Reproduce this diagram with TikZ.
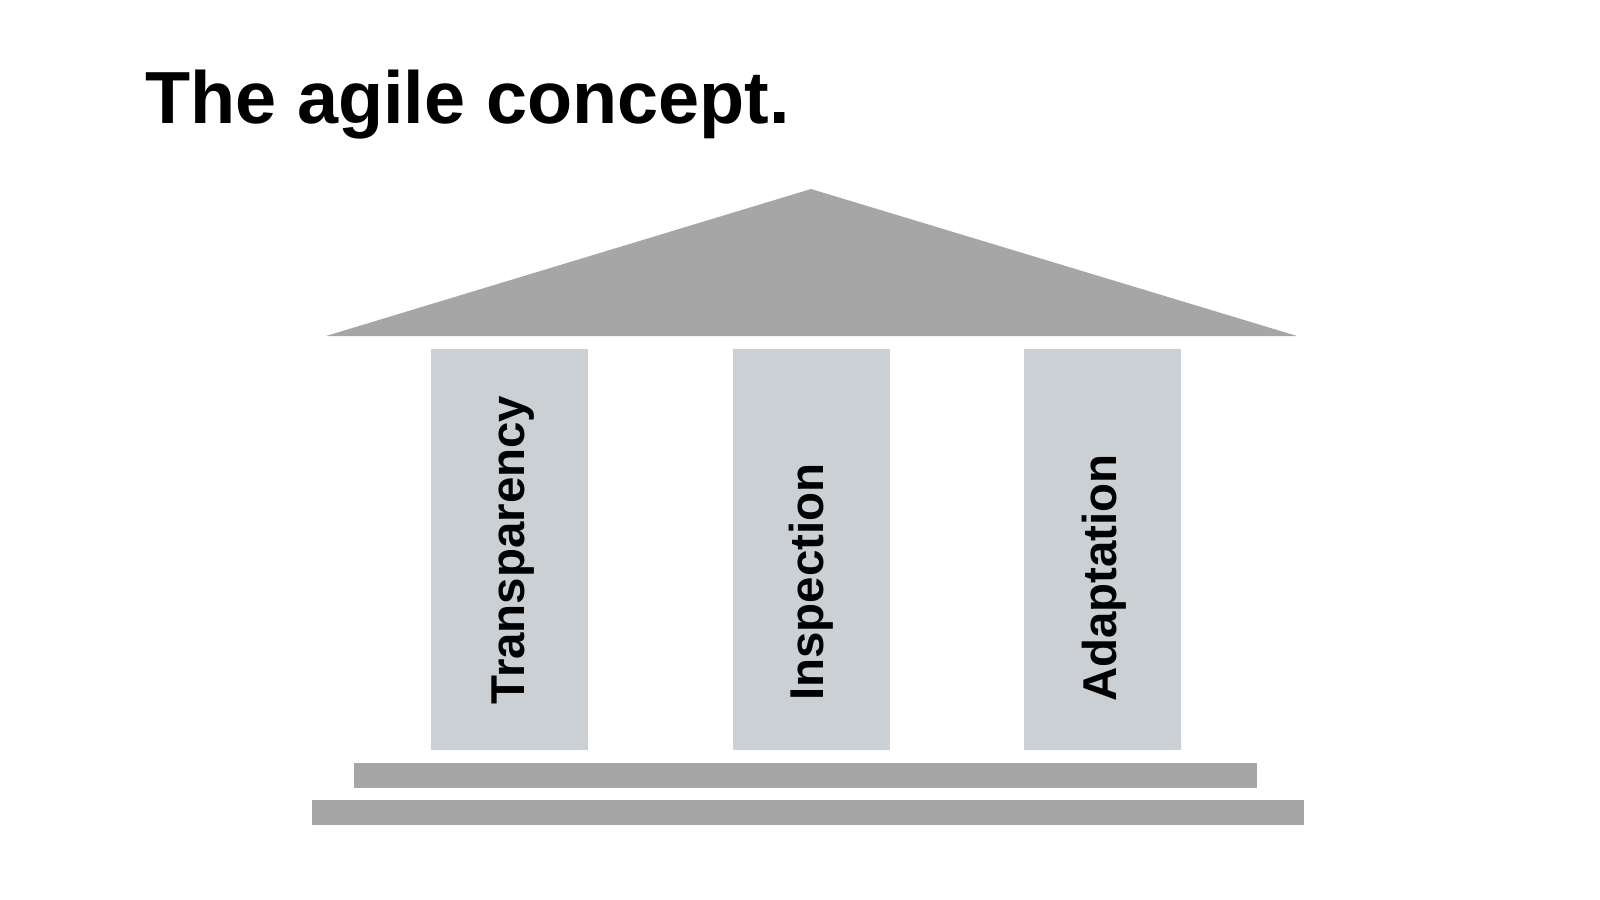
\documentclass[tikz,border=0pt]{standalone}
\usepackage{fontspec}
\setmainfont{Liberation Sans}
\begin{document}
\begin{tikzpicture}[x=0.01cm,y=-0.01cm,
  pillar/.style={fill=pillarc,draw=none},
  slab/.style={fill=roofc,draw=none},
  lbl/.style={font=\fontsize{13.5}{16}\selectfont\bfseries,rotate=90}]
\definecolor{pillarc}{HTML}{CBD0D5}
\definecolor{roofc}{HTML}{A6A6A6}
\useasboundingbox (0,0) rectangle (1600,900);
\node[anchor=west,font=\fontsize{21}{25}\selectfont\bfseries] (title) at (133,105) {The agile concept.};
\fill[slab] (326,336) -- (811,189) -- (1297,336) -- cycle;
\coordinate (apex) at (811,189);
\fill[pillar] (431,349) rectangle (588,750);
\fill[pillar] (733,349) rectangle (890,750);
\fill[pillar] (1024,349) rectangle (1181,750);
\fill[slab] (354,763) rectangle (1257,788);
\fill[slab] (312,800) rectangle (1304,825);
\node[lbl] (t) at (513,550) {Transparency};
\node[lbl] (i) at (811,582) {Inspection};
\node[lbl] (a) at (1104,578) {Adaptation};
\end{tikzpicture}
\end{document}
